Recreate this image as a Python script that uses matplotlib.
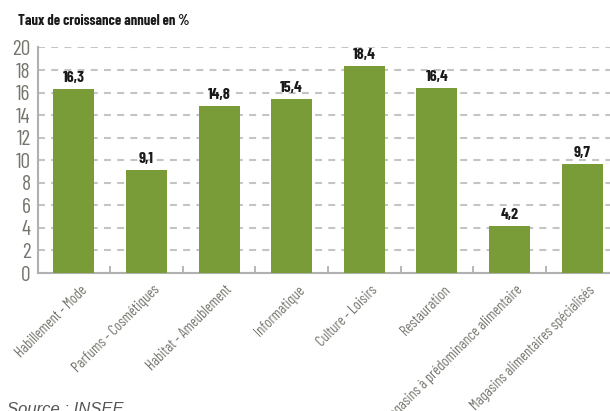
import numpy as np
import matplotlib.pyplot as plt
from matplotlib.transforms import ScaledTranslation

categories = ["Habillement - Mode", "Parfums - Cosmétiques", "Habitat - Ameublement",
              "Informatique", "Culture - Loisirs", "Restauration",
              "Magasins à prédominance alimentaire", "Magasins alimentaires spécialisés"]
values = [16.3, 9.1, 14.8, 15.4, 18.4, 16.4, 4.2, 9.7]
labels = ["16,3", "9,1", "14,8", "15,4", "18,4", "16,4", "4,2", "9,7"]

plt.rcParams['font.family'] = ['Barlow Condensed', 'DejaVu Sans']
plt.rcParams['lines.scale_dashes'] = False

fig = plt.figure(figsize=(6.1, 4.11), dpi=100)
ax = fig.add_axes([37.5/610, 138/411, 581/610, 225.5/411])

x = np.arange(len(categories))
ax.bar(x, values, width=0.565, color="#7a9c38", zorder=3)

# valeurs au-dessus des barres
for xi, v, lab in zip(x, values, labels):
    ax.text(xi, v + 0.35, lab, ha="center", va="bottom", fontsize=11.5,
            fontweight="bold", color="#1a1a1a")

ax.set_xlim(-0.5, 7.5)
ax.set_ylim(0, 20)
ax.set_yticks(range(0, 21, 2))
ax.yaxis.grid(True, linestyle=(0, (5, 4.5)), color="#c4c4c4", linewidth=1.5, zorder=0)

# libellés des catégories, légèrement décalés à droite du centre de la barre
ax.set_xticks(x)
ax.set_xticklabels([])
shift = ScaledTranslation(6 / 100, -10 / 100, fig.dpi_scale_trans)
for xi, cat in zip(x, categories):
    ax.text(xi, 0, cat, transform=ax.get_xaxis_transform() + shift,
            rotation=45, ha="right", va="top", rotation_mode="anchor",
            fontsize=10.5, color="#76766e")
ax.set_xticks(x[:-1] + 0.5, minor=True)
ax.tick_params(axis="x", which="major", length=0)
ax.tick_params(axis="x", which="minor", length=5, width=1.2, direction="in", color="#aaaaaa")
ax.tick_params(axis="y", length=0, labelsize=15.5, labelcolor="#76766e", pad=5)

for s in ["top", "right"]:
    ax.spines[s].set_visible(False)
for s in ["left", "bottom"]:
    ax.spines[s].set_color("#b0b0b0")
    ax.spines[s].set_linewidth(1.5)

fig.text(18/610, 1 - 21/411, "Taux de croissance annuel en %", fontsize=10.5,
         fontweight="bold", color="#1a1a1a", va="center")
fig.text(7/610, -3/411, "Source : INSEE", fontsize=12, style="italic",
         family="Liberation Sans", color="#555555", va="baseline")

fig.savefig("out.png", dpi=100)
